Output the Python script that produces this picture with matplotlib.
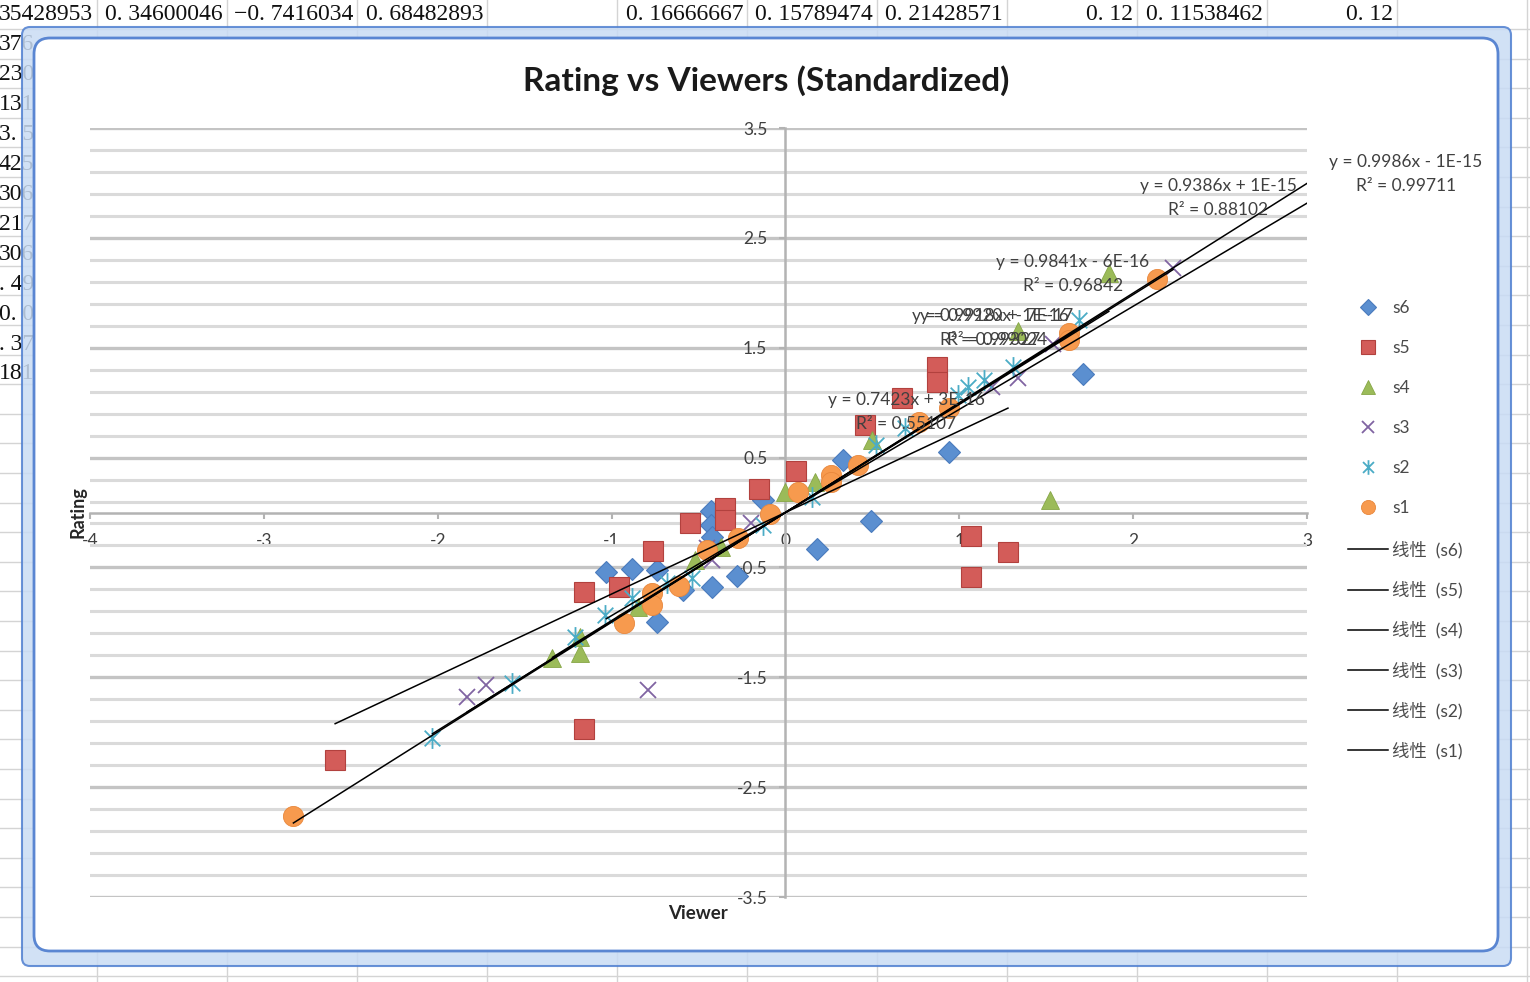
import numpy as np
import matplotlib
matplotlib.use("Agg")
import matplotlib.pyplot as plt
from matplotlib.patches import FancyBboxPatch
from matplotlib.lines import Line2D
from matplotlib.path import Path
from matplotlib.transforms import IdentityTransform

plt.rcParams['font.family'] = ['Lato', 'Noto Sans CJK SC', 'DejaVu Sans']

# ---------------- data ----------------
s1_x = [-2.83, -0.93, -0.77, -0.77, -0.61, -0.45, -0.27, -0.09, 0.07, 0.26, 0.26, 0.42, 0.77, 0.94, 1.63, 1.63, 2.14]
s1_y = [-2.76, -1.01, -0.73, -0.84, -0.67, -0.34, -0.23, -0.01, 0.19, 0.34, 0.28, 0.43, 0.82, 0.95, 1.63, 1.57, 2.13]

s2_x = [-2.03, -1.57, -1.21, -1.04, -0.88, -0.68, -0.54, -0.13, 0.15, 0.52, 0.69, 0.99, 1.05, 1.14, 1.31, 1.69]
s2_y = [-2.05, -1.55, -1.13, -0.93, -0.78, -0.64, -0.60, -0.11, 0.14, 0.61, 0.77, 1.07, 1.14, 1.21, 1.32, 1.75]

s3_x = [-1.83, -1.72, -0.79, -0.45, -0.42, -0.20, 1.19, 1.34, 1.54, 2.23]
s3_y = [-1.68, -1.57, -1.62, -0.32, -0.43, -0.10, 1.14, 1.22, 1.53, 2.23]

s4_x = [-1.34, -1.18, -1.18, -0.85, -0.52, -0.37, 0.00, 0.17, 0.50, 1.34, 1.86, 1.52]
s4_y = [-1.32, -1.28, -1.13, -0.86, -0.43, -0.31, 0.19, 0.28, 0.66, 1.65, 2.18, 0.11]

s5_x = [-2.59, -1.16, -1.16, -0.96, -0.76, -0.55, -0.35, -0.35, -0.15, 0.06, 0.46, 0.67, 0.87, 0.87, 1.07, 1.28, 1.07]
s5_y = [-2.25, -1.97, -0.72, -0.68, -0.35, -0.10, 0.04, -0.07, 0.21, 0.38, 0.80, 1.04, 1.32, 1.19, -0.21, -0.36, -0.59]

s6_x = [-1.03, -0.88, -0.74, -0.74, -0.59, -0.42, -0.28, -0.43, -0.43, -0.42, -0.13, 0.33, 0.49, 0.18, 0.94, 1.71]
s6_y = [-0.54, -0.51, -0.52, -1.00, -0.71, -0.68, -0.58, 0.01, -0.11, -0.22, 0.11, 0.48, -0.08, -0.33, 0.55, 1.26]

series_names = ['s6', 's5', 's4', 's3', 's2', 's1']
series_x = [s6_x, s5_x, s4_x, s3_x, s2_x, s1_x]
series_y = [s6_y, s5_y, s4_y, s3_y, s2_y, s1_y]

# linear trendlines (as shown in the chart labels), order s6..s1
trend_slope = [0.9386, 0.7423, 0.9841, 0.9918, 0.9920, 0.9986]
trend_icept = [1e-15, 3e-16, -6e-16, 1e-16, -7e-17, -1e-15]
trend_r2 = ['0.88102', '0.55107', '0.96842', '0.99327', '0.99024', '0.99711']
trend_eq = ['y = 0.9386x + 1E-15', 'y = 0.7423x + 3E-16', 'y = 0.9841x - 6E-16',
            'y = 0.9918x + 1E-16', 'y = 0.9920x - 7E-17', 'y = 0.9986x - 1E-15']

x_ticks = [-4, -3, -2, -1, 0, 1, 2, 3]
y_ticks = [-3.5, -2.5, -1.5, -0.5, 0.5, 1.5, 2.5, 3.5]

# spreadsheet cells behind the chart
top_row = ['35428953', '0. 34600046', '\u22120. 7416034', '0. 68482893', '', '0. 16666667',
           '0. 15789474', '0. 21428571', '0. 12', '0. 11538462', '0. 12', '']
left_col = ['376', '230', '131', '3. 5', '425', '306', '217', '306', '. 49', '0. 0', '. 37', '181']

# ---------------- styles ----------------
W, H = 1530, 982
ast = Path([(0, -1), (0, 1), (-0.75, -0.75), (0.75, 0.75), (-0.75, 0.75), (0.75, -0.75)],
           [Path.MOVETO, Path.LINETO, Path.MOVETO, Path.LINETO, Path.MOVETO, Path.LINETO])
styles = {
    's6': dict(marker='D', ms=11.5, mfc='#5b8fd0', mec='#4a7bbd', mew=0.8),
    's5': dict(marker='s', ms=14, mfc='#d35c59', mec='#b2413e', mew=0.8),
    's4': dict(marker='^', ms=13.5, mfc='#9bbb59', mec='#86a646', mew=0.6),
    's3': dict(marker='x', ms=12, mfc='none', mec='#8064a2', mew=1.3),
    's2': dict(marker=ast, ms=15, mfc='none', mec='#4bacc6', mew=1.3),
    's1': dict(marker='o', ms=14.5, mfc='#f79a4e', mec='#e8873c', mew=0.6),
}
trend_extend_to = [3.0, None, None, None, None, 3.0]   # forward forecast for s6 and s1

fig = plt.figure(figsize=(W / 100, H / 100), dpi=100)
fig.patch.set_facecolor('white')

def fy(py):
    return H - py

grid_c = '#d4d4d4'
# spreadsheet grid lines
for k in range(13):
    xk = 97 + 130 * k
    fig.add_artist(Line2D([xk, xk], [0, H], transform=IdentityTransform(), color=grid_c, lw=1, zorder=-20))
for k in range(40):
    yk = 29 + 29.6 * k
    fig.add_artist(Line2D([0, W], [fy(yk), fy(yk)], transform=IdentityTransform(), color=grid_c, lw=1, zorder=-20))

for k, t in enumerate(top_row):
    if t:
        fig.text(93 + 130 * k, fy(15), t, transform=IdentityTransform(), ha='right', va='center',
                 fontsize=17, family='Liberation Serif', color='#111111', zorder=-15)
for k, t in enumerate(left_col):
    fig.text(34, fy(45 + 29.9 * k), t, transform=IdentityTransform(), ha='right', va='center',
             fontsize=17, family='Liberation Serif', color='#111111', zorder=-15)

# chart frame
outer = FancyBboxPatch((22, fy(966)), 1489, 939, boxstyle='round,pad=0,rounding_size=8',
                       transform=IdentityTransform(), facecolor='#c9dcf4', alpha=0.85,
                       edgecolor='#4f7fd0', lw=1.5, zorder=-10)
inner = FancyBboxPatch((34, fy(951)), 1464, 913, boxstyle='round,pad=0,rounding_size=16',
                       transform=IdentityTransform(), facecolor='white',
                       edgecolor='#5a86d2', lw=2.0, zorder=-9)
fig.add_artist(outer)
fig.add_artist(inner)

# ---------------- axes ----------------
ax = fig.add_axes([90 / W, (H - 897) / H, 1217 / W, 769 / H])
ax.set_facecolor('none')
ax.set_xlim(-4, 3)
ax.set_ylim(-3.5, 3.5)

ax.set_yticks(y_ticks)
ax.set_yticks(np.arange(-3.5, 3.51, 0.2), minor=True)
ax.set_xticks(x_ticks)
ax.grid(axis='y', which='minor', color='#dadada', lw=2.2)
ax.grid(axis='y', which='major', color='#c4c4c4', lw=2.4)
ax.set_axisbelow(True)

for side in ['top', 'right']:
    ax.spines[side].set_visible(False)
ax.spines['bottom'].set_position(('data', 0))
ax.spines['left'].set_position(('data', 0))
for side in ['bottom', 'left']:
    ax.spines[side].set_color('#b3b3b3')
    ax.spines[side].set_linewidth(1.8)
ax.tick_params(axis='x', which='major', direction='out', length=4, width=1.5, color='#b3b3b3',
               pad=11, labelsize=12.5, labelcolor='#3f3f3f')
ax.tick_params(axis='y', which='major', direction='out', length=4, width=1.5, color='#b3b3b3',
               pad=9, labelsize=12.5, labelcolor='#3f3f3f')
ax.tick_params(axis='y', which='minor', length=0)
ax.set_xticklabels([str(v) for v in x_ticks])
ax.set_yticklabels([f'{v:g}' for v in y_ticks])

handles = []
for name, xs, ys in zip(series_names, series_x, series_y):
    h, = ax.plot(xs, ys, linestyle='none', label=name, zorder=3, **styles[name])
    handles.append(h)

line_handles = []
for i, (name, xs) in enumerate(zip(series_names, series_x)):
    x0 = min(xs)
    x1 = trend_extend_to[i] if trend_extend_to[i] is not None else max(xs)
    xx = np.array([x0, x1])
    l, = ax.plot(xx, trend_slope[i] * xx + trend_icept[i], color='black', lw=1.1, zorder=4,
                 label='线性  (' + name + ')')
    line_handles.append(l)

# trendline labels (placed as in the chart)
label_pos = {  # pixel centers of the two-line labels
    's1': (1406, 174), 's6': (1218, 198), 's4': (1073, 274),
    's3': (990, 328), 's2': (997, 328), 's5': (906, 412),
}
for i, name in enumerate(series_names):
    px, py = label_pos[name]
    fig.text(px, fy(py), trend_eq[i] + '\nR\u00b2 = ' + trend_r2[i], transform=IdentityTransform(),
             ha='center', va='center', multialignment='center', fontsize=12.5, color='#404040',
             linespacing=1.6, zorder=10)

ax.set_xlabel('Viewer', fontsize=13.5, fontweight='bold', color='#262626')
ax.xaxis.set_label_coords(0.4996, -0.010)
ax.set_ylabel('Rating', fontsize=13, fontweight='bold', color='#262626')
ax.yaxis.set_label_coords(-0.003, 0.5)

fig.text(766, fy(81), 'Rating vs Viewers (Standardized)', transform=IdentityTransform(),
         ha='center', va='center', fontsize=24, fontweight='bold', color='#1a1a1a')

leg_kw = dict(loc='upper left', bbox_transform=fig.transFigure, frameon=False, fontsize=12.5,
              numpoints=1, handlelength=2.3, handletextpad=0.25, borderpad=0, borderaxespad=0)
leg1 = ax.legend(handles, [h.get_label() for h in handles],
                 bbox_to_anchor=(1348 / W, (H - 300) / H), labelspacing=1.38, markerscale=0.7, **leg_kw)
ax.add_artist(leg1)
leg2 = ax.legend(line_handles, [h.get_label() for h in line_handles],
                 bbox_to_anchor=(1348 / W, (H - 541) / H), labelspacing=1.30, **leg_kw)
for lg in (leg1, leg2):
    for t in lg.get_texts():
        t.set_color('#4a4a4a')

fig.savefig('out.png', dpi=100)
